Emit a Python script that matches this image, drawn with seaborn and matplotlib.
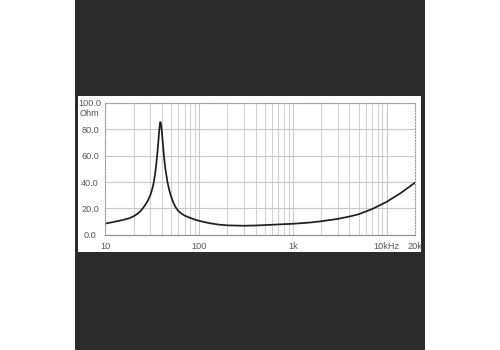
import matplotlib
matplotlib.use("Agg")
import matplotlib.pyplot as plt
import matplotlib.patches as mpatches
import matplotlib.ticker as mticker
import seaborn as sns
import pandas as pd

# ---- data ----
freq_hz = [10, 12, 15, 18, 20, 22, 24, 26, 28, 30, 31, 32, 33, 34, 35, 36, 37,
           37.5, 38, 38.5, 39, 39.5, 40, 41, 42, 43, 44, 46, 48, 50, 53, 56,
           60, 65, 70, 80, 90, 100, 130, 160, 200, 300,
           400, 500, 700, 1000, 1500, 2000, 3000, 4000, 5000, 7000, 10000, 14000, 20000]
impedance_ohm = [8.5, 9.5, 11.0, 12.5, 14.0, 15.8, 18.3, 21.5, 25.0, 29.5, 32.5, 36.0,
                 40.5, 46.5, 54.0, 63.0, 73.0, 78.5, 83.0, 85.5, 85.0, 82.5, 79.0, 70.0,
                 61.0, 54.0, 48.5, 40.0, 34.0, 29.5, 24.5, 21.0,
                 18.0, 16.0, 14.5, 12.8, 11.5, 10.5, 8.7, 7.7, 7.1, 6.8, 7.0, 7.3, 7.8,
                 8.3, 9.2, 10.2, 12.0, 13.8, 15.5, 19.5, 25.0, 31.5, 39.5]
x_ticks = [10, 100, 1000, 10000, 20000]
x_tick_labels = ["10", "100", "1k", "10kHz", "20k"]
y_ticks = [0, 20, 40, 60, 80, 100]
y_tick_labels = ["0.0", "20.0", "40.0", "60.0", "80.0", "100.0"]
y_unit = "Ohm"

df = pd.DataFrame({"Frequency": freq_hz, "Impedance": impedance_ohm})

sns.set_style("white")
plt.rcParams["font.family"] = ["Liberation Sans", "DejaVu Sans"]

W, H = 500, 350
fig = plt.figure(figsize=(5, 3.5), dpi=100, facecolor="white")

# dark square backdrop and white chart panel
fig.patches.append(mpatches.Rectangle((75 / W, 0), 350 / W, 1, transform=fig.transFigure,
                                      facecolor="#2b2b2b", edgecolor="none", zorder=-2))
fig.patches.append(mpatches.Rectangle((78 / W, (H - 252) / H), (421 - 78) / W, (252 - 96) / H,
                                      transform=fig.transFigure, facecolor="white",
                                      edgecolor="none", zorder=-1))

ax = fig.add_axes([105.3 / W, (H - 234.7) / H, (415 - 105.3) / W, (234.7 - 103) / H])
ax.set_zorder(5)
ax.set_facecolor("white")

sns.lineplot(data=df, x="Frequency", y="Impedance", ax=ax, color="#1e1e1e", linewidth=1.25)

ax.set_xscale("log")
ax.set_xlim(10, 20000)
ax.set_ylim(0, 100)

# grid
ax.xaxis.set_major_locator(mticker.FixedLocator(x_ticks))
ax.xaxis.set_minor_locator(mticker.LogLocator(base=10, subs=range(2, 10), numticks=20))
ax.xaxis.set_minor_formatter(mticker.NullFormatter())
ax.set_xticklabels(x_tick_labels)
ax.set_yticks(y_ticks)
ax.set_yticklabels(y_tick_labels)
ax.grid(True, which="major", axis="both", color="#c8c8c8", linewidth=0.8)
ax.grid(True, which="minor", axis="x", color="#d2d2d2", linewidth=0.8)
ax.set_axisbelow(True)

ax.tick_params(axis="both", which="both", length=0, labelsize=6.6, labelcolor="#555555")
ax.tick_params(axis="x", pad=5)
ax.tick_params(axis="y", pad=11)
for lab in ax.get_yticklabels():
    lab.set_horizontalalignment("center")

ax.set_xlabel("")
ax.set_ylabel("")

for side in ["left", "top", "right"]:
    ax.spines[side].set_linestyle(":")
    ax.spines[side].set_color("#9a9a9a")
    ax.spines[side].set_linewidth(0.8)
ax.spines["bottom"].set_color("#8a8a8a")
ax.spines["bottom"].set_linewidth(0.8)

# unit label under the top tick
fig.text(90 / W, (H - 113.7) / H, y_unit, ha="center", va="center", fontsize=6.6,
         color="#555555", zorder=6)

fig.savefig("out.png", dpi=100, facecolor=fig.get_facecolor())
